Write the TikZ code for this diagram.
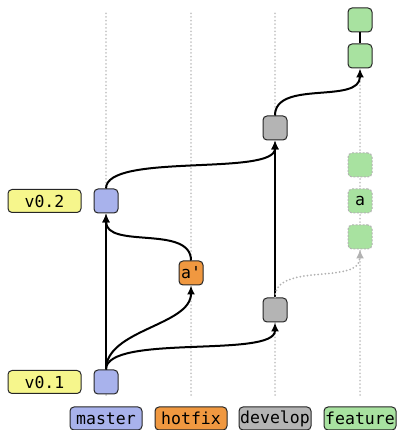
\documentclass[tikz,border=0pt]{standalone}
\usepackage{fontspec}
\setmonofont{DejaVu Sans Mono}
\usepackage{tikz}
\usetikzlibrary{arrows.meta}
\usetikzlibrary{positioning}
\usetikzlibrary{math}
\definecolor{masterblue}{RGB}{168,178,236}
\definecolor{hotfixorange}{RGB}{240,152,64}
\definecolor{developgrey}{RGB}{180,180,180}
\definecolor{featuregreen}{RGB}{168,226,160}
\definecolor{tagyellow}{RGB}{246,246,140}
\tikzstyle{commit} = [rectangle, rounded corners=4pt, minimum width=24pt, minimum height=24pt, inner sep=0pt, draw=black!85, line width=1pt, font=\ttfamily\fontsize{16.5}{17}\selectfont]
\tikzstyle{tag} = [commit, fill=tagyellow, minimum width=73pt, minimum height=23pt]
\tikzstyle{legend} = [commit, minimum width=72pt, minimum height=23pt]
\tikzstyle{ghost} = [commit, draw=black!30, dash pattern=on 2pt off 1.5pt, fill=featuregreen]
\tikzstyle{lane} = [line width=2pt, black!22, line cap=round, dash pattern=on 0pt off 3.6pt]
\tikzstyle{arrow} = [-{Latex[length=9pt,width=8pt]}, line width=2pt]
\tikzstyle{ghostarrow} = [arrow, black!30, line cap=round, dash pattern=on 0pt off 3.6pt]

\begin{document}
\begin{tikzpicture}[x=1pt, y=1pt]

  \useasboundingbox (0,0) rectangle (396,430);
  \tikzmath{\xm = 106; \xh = 191; \xd = 275; \xf = 360;}

  \foreach \x in {\xm, \xh, \xd, \xf} {
    \draw[lane] (\x,35) -- (\x,420);
  }

  % commits
  \node[commit, fill=masterblue] (m1) at (\xm,48) {};
  \node[commit, fill=masterblue] (m2) at (\xm,229) {};
  \node[commit, fill=hotfixorange] (h1) at (\xh,157) {a'};
  \node[commit, fill=developgrey] (d1) at (\xd,120) {};
  \node[commit, fill=developgrey] (d2) at (\xd,302) {};
  \node[commit, fill=featuregreen] (f1) at (\xf,374) {};
  \node[commit, fill=featuregreen] (f2) at (\xf,410) {};
  \node[ghost] (g1) at (\xf,193) {};
  \node[ghost] (g2) at (\xf,229) {a};
  \node[ghost] (g3) at (\xf,265) {};

  % tags
  \node[tag, left=12pt of m1] (v1) {v0.1};
  \node[tag, left=12pt of m2] (v2) {v0.2};

  % legend
  \node[legend, fill=masterblue] (lm) at (\xm,11.5) {master};
  \node[legend, fill=hotfixorange] (lh) at (\xh,11.5) {hotfix};
  \node[legend, fill=developgrey] (ld) at (\xd,11.5) {develop};
  \node[legend, fill=featuregreen] (lf) at (\xf,11.5) {feature};

  \draw[arrow] (m1) -- (m2);
  \draw[arrow] (m1.north) .. controls +(0,40) and +(0,-40) .. (h1.south);
  \draw[arrow] (m1.north) .. controls +(0,36) and +(0,-36) .. (d1.south);
  \draw[arrow] (h1.north) .. controls +(0,36) and +(0,-36) .. (m2.south);
  \draw[arrow] (d1) -- (d2);
  \draw[arrow] (m2.north) .. controls +(0,36) and +(0,-36) .. (d2.south);
  \draw[arrow] (d2.north) .. controls +(0,36) and +(0,-36) .. (f1.south);
  \draw[line width=2pt] (f1) -- (f2);
  \draw[ghostarrow] (d1.north) .. controls +(0,36) and +(0,-36) .. (g1.south);

\end{tikzpicture}
\end{document}
